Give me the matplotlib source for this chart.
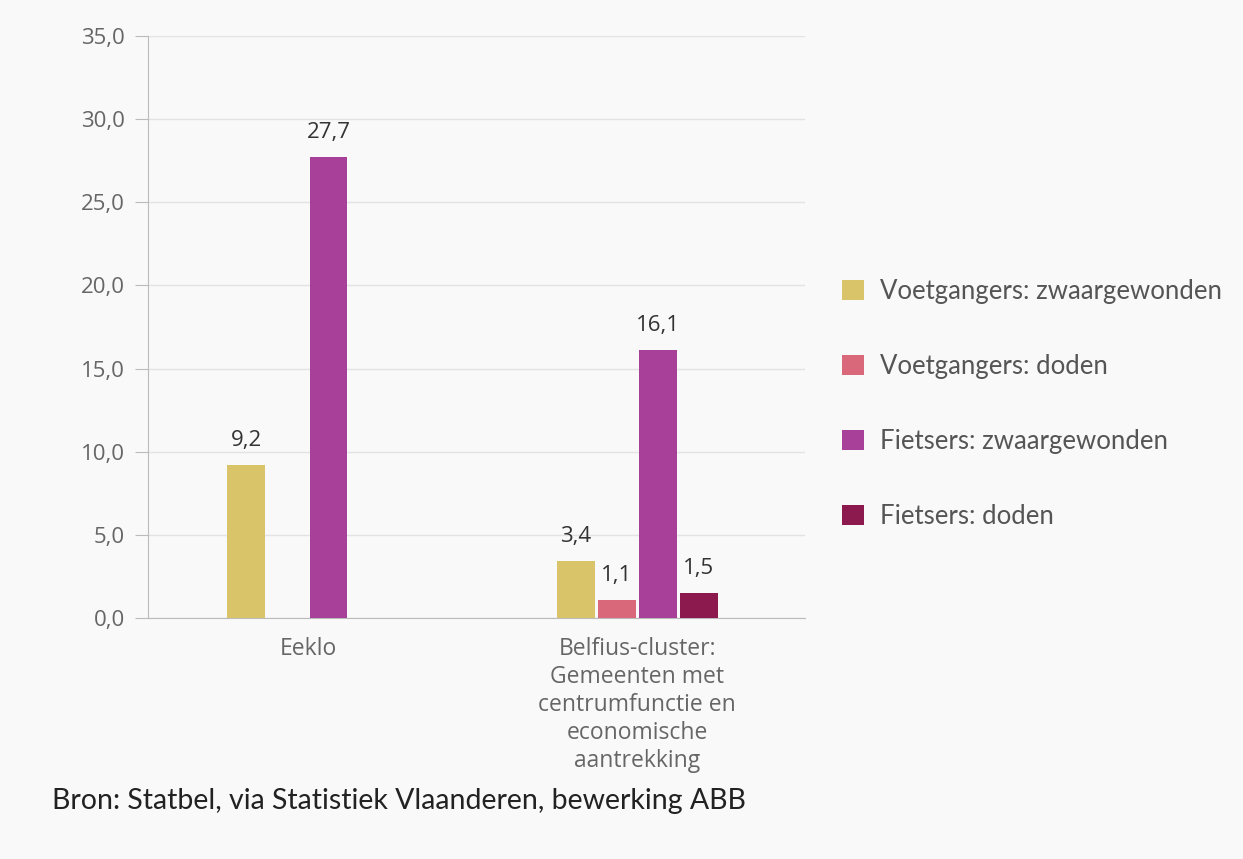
import numpy as np
import matplotlib
matplotlib.use("Agg")
import matplotlib.pyplot as plt
from matplotlib.patches import Patch

categories = ["Eeklo", "Belfius-cluster:\nGemeenten met\ncentrumfunctie en\neconomische\naantrekking"]
series_names = ["Voetgangers: zwaargewonden", "Voetgangers: doden",
                "Fietsers: zwaargewonden", "Fietsers: doden"]
values = {
    "Voetgangers: zwaargewonden": [9.2, 3.4],
    "Voetgangers: doden": [np.nan, 1.1],
    "Fietsers: zwaargewonden": [27.7, 16.1],
    "Fietsers: doden": [np.nan, 1.5],
}
colors = ["#d9c46a", "#d9687a", "#a8409a", "#8c1a4f"]
yticks = [0, 5, 10, 15, 20, 25, 30, 35]

plt.rcParams['font.family'] = ['Lato', 'DejaVu Sans']
osans = ['Open Sans', 'DejaVu Sans']
bg = "#f9f9f9"
fig = plt.figure(figsize=(12.43, 8.59), dpi=100, facecolor=bg)
ax = fig.add_axes([0.119, 0.2806, 0.648 - 0.119, 0.958 - 0.2806], facecolor=bg)

x = np.arange(len(categories))
pitch = 0.1246
width = 0.115
for i, name in enumerate(series_names):
    offs = (i - 1.5) * pitch
    vals = np.array(values[name], dtype=float)
    ax.bar(x + offs, np.nan_to_num(vals), width, color=colors[i], zorder=3)
    for xi, v in zip(x, vals):
        if not np.isnan(v):
            ax.text(xi + offs, v + 0.85, f"{v:.1f}".replace('.', ','), ha='center', va='bottom',
                    fontsize=16, color='#333333', family=osans)

ax.set_xlim(-0.486, 1.511)
ax.set_ylim(0, 35)
ax.set_yticks(yticks)
ax.set_yticklabels([f"{t:.1f}".replace('.', ',') for t in yticks], fontsize=16,
                   color='#666666', family=osans)
ax.set_xticks(x)
ax.set_xticklabels(categories, fontsize=16.5, color='#666666', linespacing=1.22, family=osans)
ax.tick_params(axis='x', length=0, pad=14)
ax.tick_params(axis='y', length=9.4, color='#bbbbbb', pad=7)
ax.grid(axis='y', color='#e3e3e3', linewidth=1, zorder=0)
for s in ['top', 'right']:
    ax.spines[s].set_visible(False)
ax.spines['left'].set_color('#bbbbbb')
ax.spines['bottom'].set_color('#bbbbbb')

handles = [Patch(facecolor=c, edgecolor='none') for c in colors]
fig.legend(handles, series_names, loc='center left', bbox_to_anchor=(0.659, 0.53),
           frameon=False, fontsize=18.5, labelcolor='#555555', labelspacing=1.95,
           handlelength=0.85, handleheight=0.82, handletextpad=0.6)

fig.text(0.042, 0.058, "Bron: Statbel, via Statistiek Vlaanderen, bewerking ABB",
         fontsize=20.5, color='#222222')

fig.savefig("out.png", dpi=100, facecolor=bg)
